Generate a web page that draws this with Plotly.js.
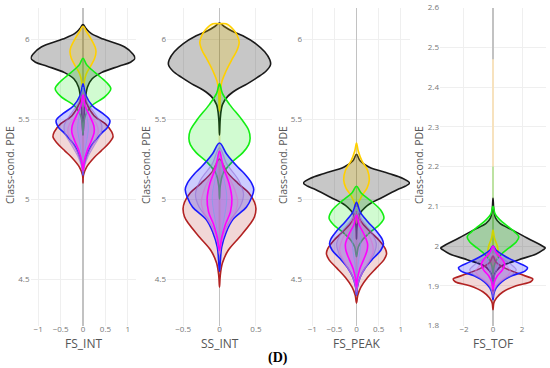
<!DOCTYPE html>
<html>
<head>
<meta charset="utf-8">
<script src="https://cdn.plot.ly/plotly-3.0.1.min.js"></script>
<style>html,body{margin:0;padding:0;background:#fff;}#chart{width:550px;height:368px;}</style>
</head>
<body>
<div id="chart"></div>
<script>
// ---- Data: class-conditional PDE profiles, pairs of [feature value, density half-width] ----
const xTitles = ['FS_INT', 'SS_INT', 'FS_PEAK', 'FS_TOF'];
const yTitle = 'Class-cond. PDE';
const caption = '(D)';

// Panel 1: FS_INT
const fsInt_black = [[6.09,0],[6.065,0.07],[6.035,0.18],[6.0,0.45],[5.95,0.93],[5.91,1.1],[5.88,1.16],[5.855,1.06],[5.83,0.8],[5.79,0.41],[5.75,0.2],[5.7,0.1],[5.62,0.05],[5.5,0.02],[5.4,0]];
const fsInt_gold  = [[6.08,0],[6.05,0.07],[6.0,0.18],[5.95,0.27],[5.92,0.29],[5.88,0.26],[5.83,0.17],[5.78,0.07],[5.72,0.02],[5.65,0]];
const fsInt_green = [[5.88,0],[5.84,0.08],[5.79,0.27],[5.73,0.52],[5.69,0.62],[5.64,0.49],[5.58,0.18],[5.52,0.05],[5.45,0.01],[5.4,0]];
const fsInt_red   = [[5.7,0],[5.6,0.08],[5.52,0.25],[5.47,0.5],[5.42,0.64],[5.39,0.67],[5.35,0.58],[5.3,0.4],[5.26,0.25],[5.2,0.08],[5.15,0.01],[5.1,0]];
const fsInt_blue  = [[5.72,0],[5.65,0.06],[5.58,0.22],[5.535,0.44],[5.49,0.6],[5.45,0.55],[5.41,0.41],[5.33,0.18],[5.25,0.06],[5.19,0.01],[5.15,0]];
const fsInt_purple= [[5.68,0],[5.6,0.1],[5.52,0.3],[5.46,0.42],[5.41,0.4],[5.34,0.26],[5.27,0.12],[5.2,0.03],[5.15,0]];
const fsInt_orchid= [[5.62,0],[5.54,0.1],[5.47,0.3],[5.42,0.34],[5.36,0.26],[5.29,0.12],[5.22,0.03],[5.17,0]];
const fsInt_sky   = [[5.7,0],[5.6,0.04],[5.5,0.1],[5.44,0.12],[5.36,0.08],[5.28,0.03],[5.2,0]];
const fsInt_magenta=[[5.65,0],[5.58,0.05],[5.52,0.15],[5.46,0.24],[5.42,0.25],[5.36,0.18],[5.3,0.09],[5.24,0.03],[5.18,0]];

// Panel 2: SS_INT
const ssInt_black = [[6.1,0],[6.08,0.06],[6.05,0.17],[6.02,0.32],[5.97,0.5],[5.92,0.62],[5.87,0.69],[5.84,0.7],[5.8,0.64],[5.76,0.52],[5.72,0.38],[5.68,0.22],[5.64,0.11],[5.59,0.04],[5.5,0.01],[5.4,0]];
const ssInt_gold  = [[6.095,0],[6.095,0.09],[6.06,0.19],[6.025,0.24],[5.98,0.27],[5.93,0.24],[5.88,0.18],[5.8,0.09],[5.73,0.03],[5.65,0.01],[5.55,0]];
const ssInt_green = [[5.72,0],[5.66,0.04],[5.59,0.14],[5.5,0.3],[5.43,0.4],[5.38,0.42],[5.34,0.4],[5.29,0.32],[5.23,0.17],[5.16,0.05],[5.08,0.01],[5.0,0]];
const ssInt_red   = [[5.25,0],[5.17,0.1],[5.1,0.25],[5.04,0.4],[4.98,0.48],[4.94,0.5],[4.89,0.48],[4.85,0.43],[4.76,0.27],[4.68,0.12],[4.6,0.04],[4.52,0.01],[4.45,0]];
const ssInt_blue  = [[5.35,0],[5.28,0.1],[5.2,0.25],[5.16,0.34],[5.1,0.44],[5.06,0.47],[5.01,0.44],[4.95,0.37],[4.87,0.18],[4.79,0.09],[4.7,0.03],[4.6,0.01],[4.55,0]];
const ssInt_purple= [[5.32,0],[5.22,0.1],[5.12,0.26],[5.03,0.33],[4.95,0.28],[4.87,0.15],[4.78,0.05],[4.68,0]];
const ssInt_orchid= [[5.28,0],[5.18,0.08],[5.07,0.2],[4.98,0.25],[4.9,0.2],[4.82,0.1],[4.73,0.03],[4.65,0]];
const ssInt_sky   = [[5.3,0],[5.15,0.05],[5.02,0.1],[4.92,0.08],[4.8,0.03],[4.7,0]];
const ssInt_magenta=[[5.3,0],[5.2,0.05],[5.1,0.13],[5.0,0.17],[4.92,0.15],[4.84,0.08],[4.76,0.03],[4.68,0]];

// Panel 3: FS_PEAK
const fsPeak_black = [[5.28,0],[5.24,0.08],[5.2,0.28],[5.16,0.73],[5.13,1.04],[5.1,1.2],[5.08,1.1],[5.06,0.93],[5.01,0.58],[4.96,0.25],[4.9,0.06],[4.82,0.01],[4.75,0]];
const fsPeak_gold  = [[5.35,0],[5.3,0.04],[5.24,0.12],[5.18,0.25],[5.12,0.29],[5.07,0.24],[5.02,0.12],[4.97,0.04],[4.9,0.01],[4.85,0]];
const fsPeak_green = [[5.08,0],[5.04,0.1],[4.99,0.32],[4.93,0.55],[4.88,0.62],[4.84,0.52],[4.79,0.3],[4.74,0.12],[4.7,0.04],[4.64,0]];
const fsPeak_red   = [[4.92,0],[4.86,0.1],[4.8,0.3],[4.74,0.52],[4.69,0.65],[4.66,0.68],[4.62,0.62],[4.57,0.45],[4.51,0.25],[4.45,0.1],[4.4,0.03],[4.35,0]];
const fsPeak_blue  = [[4.98,0],[4.92,0.08],[4.86,0.25],[4.8,0.45],[4.75,0.58],[4.72,0.61],[4.68,0.55],[4.63,0.38],[4.57,0.2],[4.51,0.08],[4.45,0.02],[4.4,0]];
const fsPeak_purple= [[4.95,0],[4.87,0.12],[4.79,0.34],[4.72,0.45],[4.66,0.4],[4.59,0.25],[4.52,0.1],[4.45,0.02],[4.4,0]];
const fsPeak_orchid= [[4.92,0],[4.84,0.12],[4.75,0.32],[4.68,0.38],[4.62,0.3],[4.55,0.15],[4.48,0.04],[4.42,0]];
const fsPeak_sky   = [[4.95,0],[4.85,0.05],[4.76,0.1],[4.68,0.08],[4.58,0.03],[4.5,0]];
const fsPeak_magenta=[[4.9,0],[4.84,0.06],[4.78,0.17],[4.72,0.25],[4.68,0.24],[4.62,0.16],[4.56,0.07],[4.5,0.02],[4.45,0]];

// Panel 4: FS_TOF
const fsTof_black = [[2.12,0],[2.09,0.06],[2.07,0.18],[2.057,0.48],[2.04,1.35],[2.02,2.35],[2.0,3.4],[1.995,3.6],[1.99,3.45],[1.98,2.98],[1.965,1.74],[1.95,0.6],[1.94,0.3],[1.93,0.12],[1.91,0.03],[1.88,0]];
const fsTof_gold  = [[2.04,0],[2.02,0.1],[2.0,0.3],[1.985,0.35],[1.97,0.25],[1.955,0.1],[1.94,0]];
const fsTof_green = [[2.1,0],[2.08,0.15],[2.065,0.5],[2.05,1.0],[2.035,1.5],[2.023,1.78],[2.01,1.6],[1.995,1.1],[1.98,0.6],[1.965,0.25],[1.95,0.08],[1.93,0]];
const fsTof_red   = [[1.975,0],[1.96,0.2],[1.945,0.8],[1.93,1.8],[1.92,2.6],[1.917,2.74],[1.91,2.6],[1.9,1.6],[1.885,0.7],[1.87,0.25],[1.857,0.06],[1.84,0]];
const fsTof_blue  = [[2.0,0],[1.99,0.2],[1.975,0.8],[1.96,1.6],[1.95,2.2],[1.945,2.38],[1.937,2.2],[1.925,1.3],[1.91,0.6],[1.895,0.22],[1.88,0.06],[1.865,0]];
const fsTof_purple= [[1.99,0],[1.975,0.4],[1.955,1.2],[1.94,1.6],[1.93,1.4],[1.915,0.7],[1.9,0.25],[1.88,0.05],[1.87,0]];
const fsTof_orchid= [[1.98,0],[1.965,0.4],[1.948,1.0],[1.935,1.2],[1.922,0.9],[1.908,0.4],[1.893,0.1],[1.88,0]];
const fsTof_sky   = [[2.0,0],[1.98,0.15],[1.96,0.4],[1.945,0.3],[1.925,0.1],[1.9,0]];
const fsTof_magenta=[[2.0,0],[1.985,0.2],[1.97,0.55],[1.955,0.8],[1.94,0.65],[1.925,0.3],[1.91,0.1],[1.89,0]];

// Pale central tails [top, bottom]
const goldTails  = [[5.72,5.2],[5.7,4.6],[4.9,4.4],[2.47,1.9]];
const greenTails = [null, null, null, [2.2,2.0]];

// Axis settings
const xRanges = [[-1.17,1.17],[-0.72,0.72],[-1.21,1.21],[-3.65,3.65]];
const yRanges = [[4.21,6.197],[4.21,6.197],[4.21,6.197],[1.8,2.6]];
const xDtick = [0.5, 0.5, 0.5, 2];
const yDtick = [0.5, 0.5, 0.5, 0.1];

// ---- Styles ----
const styles = {
  black:   {line:'#1a1a1a', fill:'rgba(0,0,0,0.22)', w:1.6},
  gold:    {line:'#ffd000', fill:'rgba(255,210,0,0.22)', w:1.6},
  green:   {line:'#14ee14', fill:'rgba(0,235,0,0.18)', w:1.6},
  red:     {line:'#b22222', fill:'rgba(178,34,34,0.18)', w:1.6},
  blue:    {line:'#1a1aff', fill:'rgba(0,0,255,0.2)', w:1.6},
  purple:  {line:'rgba(147,112,219,0.6)', fill:'rgba(147,112,219,0.14)', w:1.2},
  orchid:  {line:'rgba(218,112,214,0.6)', fill:'rgba(218,112,214,0.12)', w:1.2},
  sky:     {line:'rgba(90,190,230,0.6)', fill:'rgba(90,190,230,0.12)', w:1.0},
  magenta: {line:'#ff00ff', fill:'rgba(255,0,255,0.12)', w:1.6}
};
const order = ['black','gold','green','red','blue','purple','orchid','sky','magenta'];
const panels = [
  {black:fsInt_black, gold:fsInt_gold, green:fsInt_green, red:fsInt_red, blue:fsInt_blue, purple:fsInt_purple, orchid:fsInt_orchid, sky:fsInt_sky, magenta:fsInt_magenta},
  {black:ssInt_black, gold:ssInt_gold, green:ssInt_green, red:ssInt_red, blue:ssInt_blue, purple:ssInt_purple, orchid:ssInt_orchid, sky:ssInt_sky, magenta:ssInt_magenta},
  {black:fsPeak_black, gold:fsPeak_gold, green:fsPeak_green, red:fsPeak_red, blue:fsPeak_blue, purple:fsPeak_purple, orchid:fsPeak_orchid, sky:fsPeak_sky, magenta:fsPeak_magenta},
  {black:fsTof_black, gold:fsTof_gold, green:fsTof_green, red:fsTof_red, blue:fsTof_blue, purple:fsTof_purple, orchid:fsTof_orchid, sky:fsTof_sky, magenta:fsTof_magenta}
];

function violinTrace(pairs, st, xa, ya) {
  const ys = pairs.map(p => p[0]);
  const ws = pairs.map(p => p[1]);
  const rys = ys.slice().reverse().slice(1);
  const rws = ws.slice().reverse().slice(1).map(w => -w);
  return {
    type:'scatter', mode:'lines', xaxis:xa, yaxis:ya,
    x: ws.concat(rws), y: ys.concat(rys),
    fill:'toself', fillcolor:st.fill,
    line:{color:st.line, width:st.w, shape:'spline', smoothing:1},
    hoverinfo:'skip', showlegend:false
  };
}
function tailTrace(seg, color, xa, ya) {
  return {type:'scatter', mode:'lines', xaxis:xa, yaxis:ya, x:[0,0], y:seg,
    line:{color:color, width:2}, hoverinfo:'skip', showlegend:false};
}

const traces = [];
const layout = {
  width:550, height:368, margin:{l:0,r:0,t:0,b:0},
  paper_bgcolor:'#fff', plot_bgcolor:'#fff', showlegend:false,
  font:{family:'Open Sans, Arial, sans-serif', color:'#555'},
  annotations:[]
};
const xDomains = [[30.5,135.5],[167,272],[303,410],[440,546]];
const plotTopPx = 7.5, plotBottomPx = 325.5;
const yDom = [(368-plotBottomPx)/368, (368-plotTopPx)/368];
const yTitleX = [10, 146, 283, 419];

panels.forEach((p, i) => {
  const n = i === 0 ? '' : String(i+1);
  const xa = 'x' + n, ya = 'y' + n;
  traces.push(tailTrace(goldTails[i], 'rgba(250,228,190,0.95)', xa, ya));
  if (greenTails[i]) traces.push(tailTrace(greenTails[i], 'rgba(185,225,160,0.95)', xa, ya));
  order.forEach(k => traces.push(violinTrace(p[k], styles[k], xa, ya)));

  layout['xaxis' + n] = {
    domain:[xDomains[i][0]/550, xDomains[i][1]/550], anchor:ya,
    range:xRanges[i], dtick:xDtick[i], tick0:0,
    showgrid:true, gridcolor:'#efefef', gridwidth:1,
    zeroline:true, zerolinecolor:'#c2c2c2', zerolinewidth:1.6,
    showline:false, ticks:'', ticklabelstandoff:-3, tickfont:{size:8, color:'#777'}, automargin:false
  };
  layout['yaxis' + n] = {
    domain:yDom, anchor:xa, range:yRanges[i], dtick:yDtick[i], tick0:0,
    showgrid:true, gridcolor:'#efefef', gridwidth:1,
    zeroline:false, showline:false, ticks:'', tickfont:{size:8, color:'#777'}, automargin:false
  };
  layout.annotations.push({
    xref:'paper', yref:'paper', x:(xDomains[i][0]+xDomains[i][1])/2/550, y:1-343.5/368,
    text:xTitles[i], showarrow:false, xanchor:'center', yanchor:'middle',
    font:{size:12, color:'#555'}
  });
  layout.annotations.push({
    xref:'paper', yref:'paper', x:yTitleX[i]/550, y:1-165/368,
    text:yTitle, showarrow:false, textangle:-90, xanchor:'center', yanchor:'middle',
    font:{size:10.5, color:'#555'}
  });
});
layout.annotations.push({
  xref:'paper', yref:'paper', x:278/550, y:1-357.5/368, text:'<b>' + caption + '</b>',
  showarrow:false, xanchor:'center', yanchor:'middle',
  font:{family:'Liberation Serif, Times New Roman, serif', size:14, color:'#000'}
});

Plotly.newPlot('chart', traces, layout, {staticPlot:true, displayModeBar:false});
</script>
</body>
</html>
